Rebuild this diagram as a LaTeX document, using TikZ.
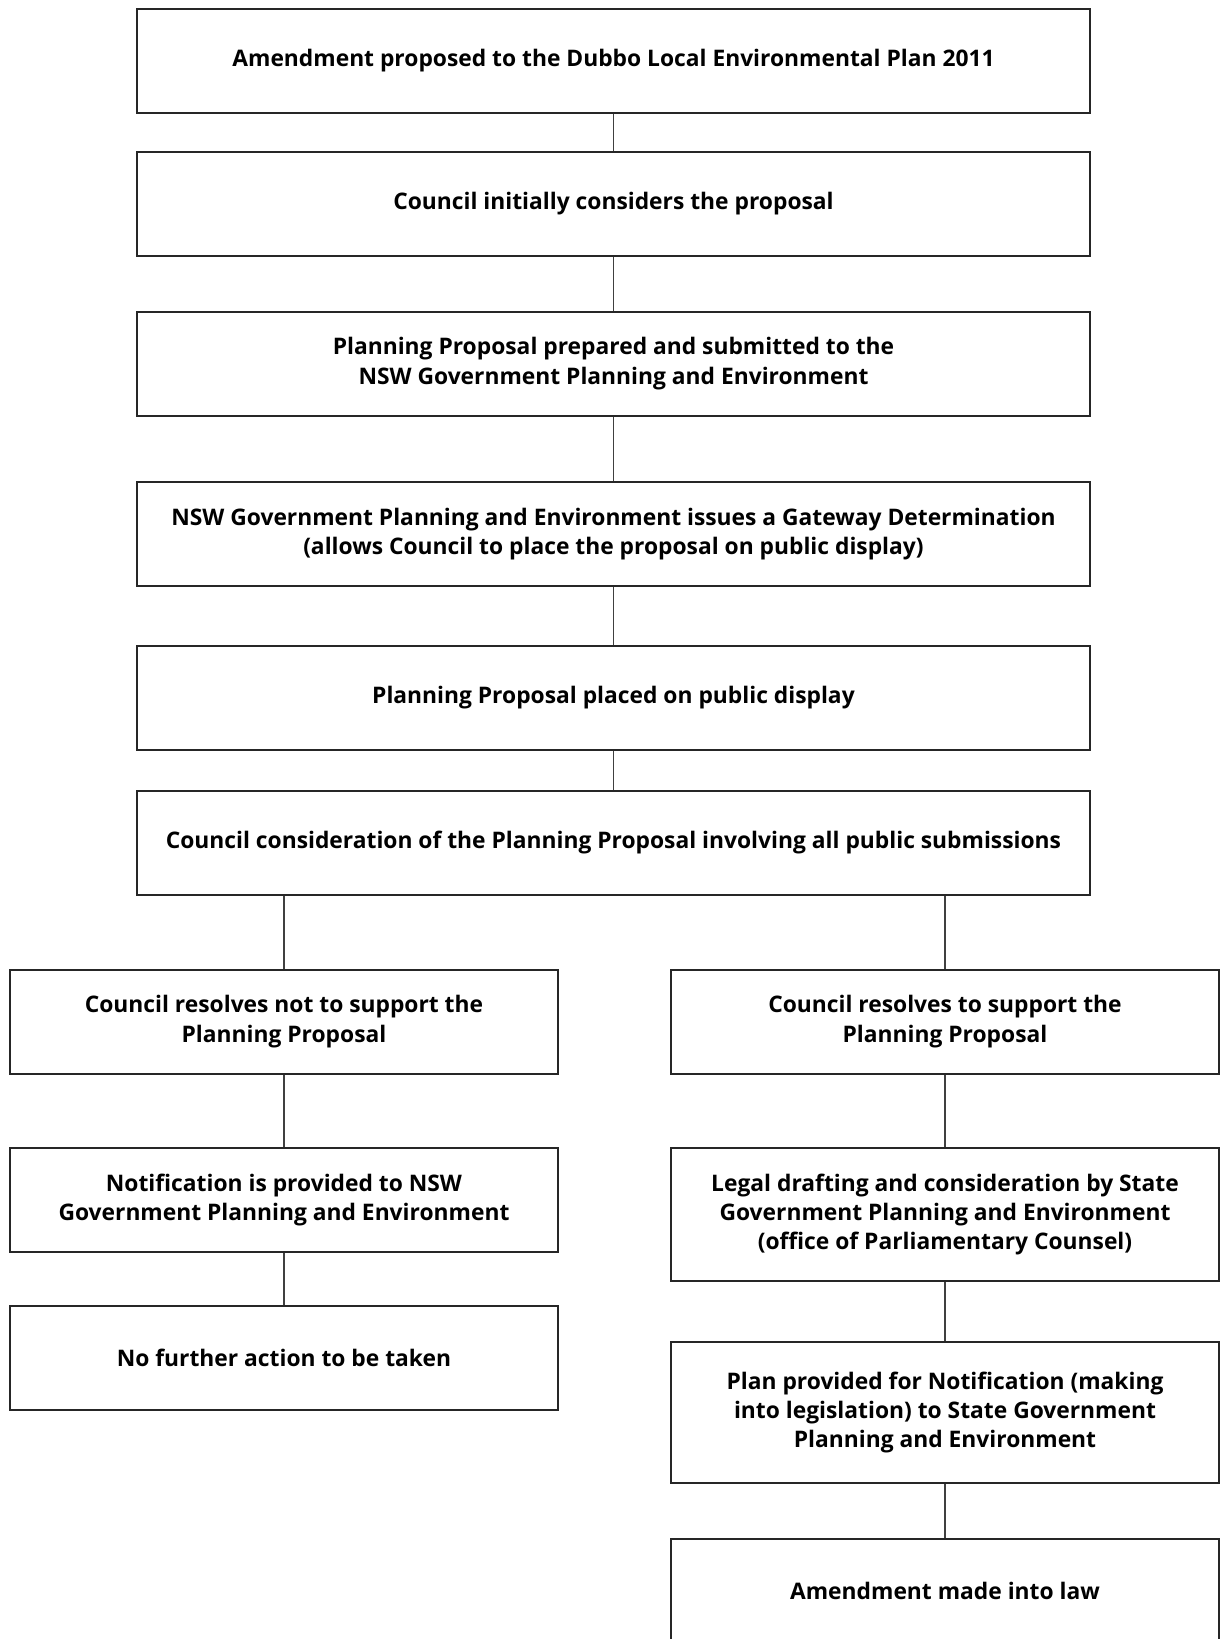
\documentclass[tikz,border=0pt]{standalone}
\usepackage{fontspec}
\setmainfont{Open Sans}
\tikzset{
  stage/.style={draw=black!85, line width=1pt, fill=white, align=center,
    inner sep=0pt, minimum height=52pt,
    font=\bfseries\fontsize{11.4}{14.6}\selectfont},
  wide/.style={stage, minimum width=476.5pt},
  half/.style={stage, minimum width=274pt},
}
\begin{document}
\begin{tikzpicture}[x=0.5pt,y=-0.5pt]
      \clip (0,0) rectangle (1220,1639);
      \fill[white] (0,0) rectangle (1220,1639);
      \draw
        (613.5,60.5) node[wide] (amend){Amendment proposed to the Dubbo Local Environmental Plan 2011}
        (613.5,204) node[wide] (initial){Council initially considers the proposal}
        (613.5,363.5) node[wide] (prepared){Planning Proposal prepared and submitted to the\\NSW Government Planning and Environment}
        (613.5,534) node[wide] (gateway){NSW Government Planning and Environment issues a Gateway Determination\\(allows Council to place the proposal on public display)}
        (613.5,697.5) node[wide] (display){Planning Proposal placed on public display}
        (613.5,842.5) node[wide] (consider){Council consideration of the Planning Proposal involving all public submissions}
        (284,1021.5) node[half] (notsupport){Council resolves not to support the\\Planning Proposal}
        (284,1200) node[half] (notify){Notification is provided to NSW\\Government Planning and Environment}
        (284,1358) node[half] (noaction){No further action to be taken}
        (945,1021.5) node[half] (support){Council resolves to support the\\Planning Proposal}
        (945,1214.5) node[half, minimum height=66.5pt] (drafting){Legal drafting and consideration by State\\Government Planning and Environment\\(office of Parliamentary Counsel)}
        (945,1412.5) node[half, minimum height=70.5pt] (plan){Plan provided for Notification (making\\into legislation) to State Government\\Planning and Environment}
        (945,1591) node[half] (law){Amendment made into law};
      \begin{scope}[-, draw=black!75, line width=0.6pt]
        \draw (amend) to (initial);
        \draw (initial) to (prepared);
        \draw (prepared) to (gateway);
        \draw (gateway) to (display);
        \draw (display) to (consider);
        \draw (notsupport.north |- consider.south) to (notsupport);
        \draw (support.north |- consider.south) to (support);
        \draw (notsupport) to (notify);
        \draw (notify) to (noaction);
        \draw (support) to (drafting);
        \draw (drafting) to (plan);
        \draw (plan) to (law);
      \end{scope}
    \end{tikzpicture}
\end{document}
